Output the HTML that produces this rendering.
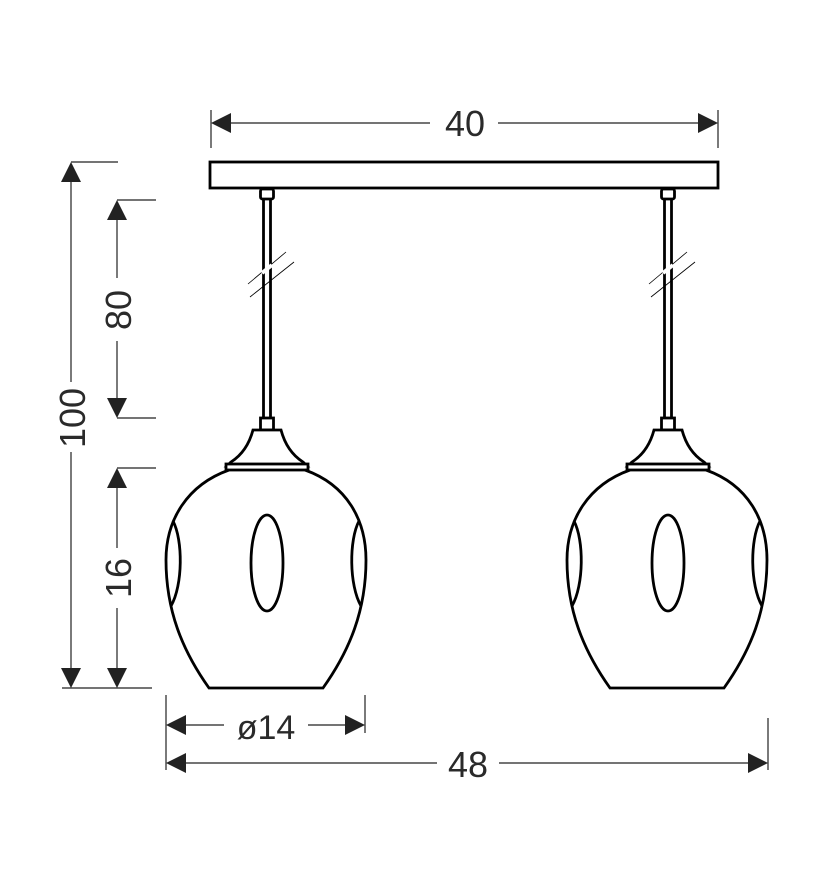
<!DOCTYPE html>
<html><head><meta charset="utf-8"><style>
html,body{margin:0;padding:0;background:#fff;}
svg{display:block;}
text{font-family:"Liberation Sans",sans-serif;fill:#2a2a2a;}
</style></head><body>
<svg width="828" height="886" viewBox="0 0 828 886" xmlns="http://www.w3.org/2000/svg">
<defs>
<g id="lamp" fill="none" stroke="#000" stroke-width="2.8">
  <rect x="-6.5" y="189" width="13" height="10" rx="2" fill="#fff"/>
  <line x1="-3.5" y1="199" x2="-3.5" y2="418"/>
  <line x1="3.5" y1="199" x2="3.5" y2="418"/>
  <rect x="-6.5" y="418" width="13" height="12" fill="#fff"/>
  <path d="M-14,430 L14,430 C18,445 25,455 36,462 L40,466 L-40,466 L-36,462 C-25,455 -18,445 -14,430 Z" fill="#fff"/>
  <rect x="-41" y="464" width="82" height="6" fill="#fff"/>
  <path d="M-38,470 C-80,485 -101,520 -101,560 C-101,610 -85,650 -58,688 L56,688 C83,650 99,610 99,560 C99,520 80,485 38,470"/>
  <path d="M-94,521 C-84,540 -84,585 -96,606"/>
  <path d="M92,521 C82,540 82,585 94,606"/>
  <ellipse cx="0" cy="563" rx="16" ry="48"/>
</g>
</defs>
<rect x="210" y="162" width="508" height="26" fill="#fff" stroke="#000" stroke-width="2.8"/>
<g transform="translate(267,0)"><use href="#lamp"/></g>
<g transform="translate(668,0)"><use href="#lamp"/></g>
<g stroke="#000" stroke-width="0.8">
<line x1="248" y1="284" x2="286" y2="252"/><line x1="250" y1="297" x2="294" y2="262"/>
<line x1="649" y1="284" x2="687" y2="252"/><line x1="651" y1="297" x2="695" y2="262"/>
</g>
<g stroke="#fff" stroke-width="4">
<line x1="262" y1="273" x2="272" y2="265"/><line x1="663" y1="273" x2="673" y2="265"/>
</g>
<g stroke="#222" stroke-width="1.2" fill="none">
<line x1="211" y1="110" x2="211" y2="148"/><line x1="718" y1="110" x2="718" y2="148"/>
<line x1="230" y1="123" x2="430" y2="123"/><line x1="498" y1="123" x2="700" y2="123"/>
<line x1="71" y1="162" x2="118" y2="162"/>
<line x1="71" y1="180" x2="71" y2="382"/><line x1="71" y1="452" x2="71" y2="670"/>
<line x1="62" y1="688" x2="152" y2="688"/>
<line x1="117" y1="200" x2="156" y2="200"/><line x1="117" y1="418" x2="156" y2="418"/>
<line x1="117" y1="218" x2="117" y2="278"/><line x1="117" y1="341" x2="117" y2="400"/>
<line x1="117" y1="468" x2="156" y2="468"/>
<line x1="117" y1="486" x2="117" y2="548"/><line x1="117" y1="608" x2="117" y2="670"/>
<line x1="166" y1="695" x2="166" y2="770"/><line x1="365" y1="695" x2="365" y2="733"/>
<line x1="184" y1="725" x2="224" y2="725"/><line x1="308" y1="725" x2="347" y2="725"/>
<line x1="768" y1="718" x2="768" y2="770"/>
<line x1="184" y1="763" x2="437" y2="763"/><line x1="499" y1="763" x2="750" y2="763"/>
</g>
<g fill="#222">
<path d="M211,123 L231,113 L231,133 Z"/><path d="M718,123 L698,113 L698,133 Z"/>
<path d="M71,162 L61,182 L81,182 Z"/><path d="M71,688 L61,668 L81,668 Z"/>
<path d="M117,200 L107,220 L127,220 Z"/><path d="M117,418 L107,398 L127,398 Z"/>
<path d="M117,468 L107,488 L127,488 Z"/><path d="M117,688 L107,668 L127,668 Z"/>
<path d="M166,725 L186,715 L186,735 Z"/><path d="M365,725 L345,715 L345,735 Z"/>
<path d="M166,763 L186,753 L186,773 Z"/><path d="M768,763 L748,753 L748,773 Z"/>
</g>
<text x="465" y="136" font-size="36" text-anchor="middle">40</text>
<text x="266" y="739" font-size="34" text-anchor="middle">ø14</text>
<text x="468" y="777" font-size="36" text-anchor="middle">48</text>
<text transform="translate(131,310) rotate(-90)" font-size="36" text-anchor="middle">80</text>
<text transform="translate(85,418) rotate(-90)" font-size="36" text-anchor="middle">100</text>
<text transform="translate(131,578) rotate(-90)" font-size="36" text-anchor="middle">16</text>
</svg>
</body></html>
